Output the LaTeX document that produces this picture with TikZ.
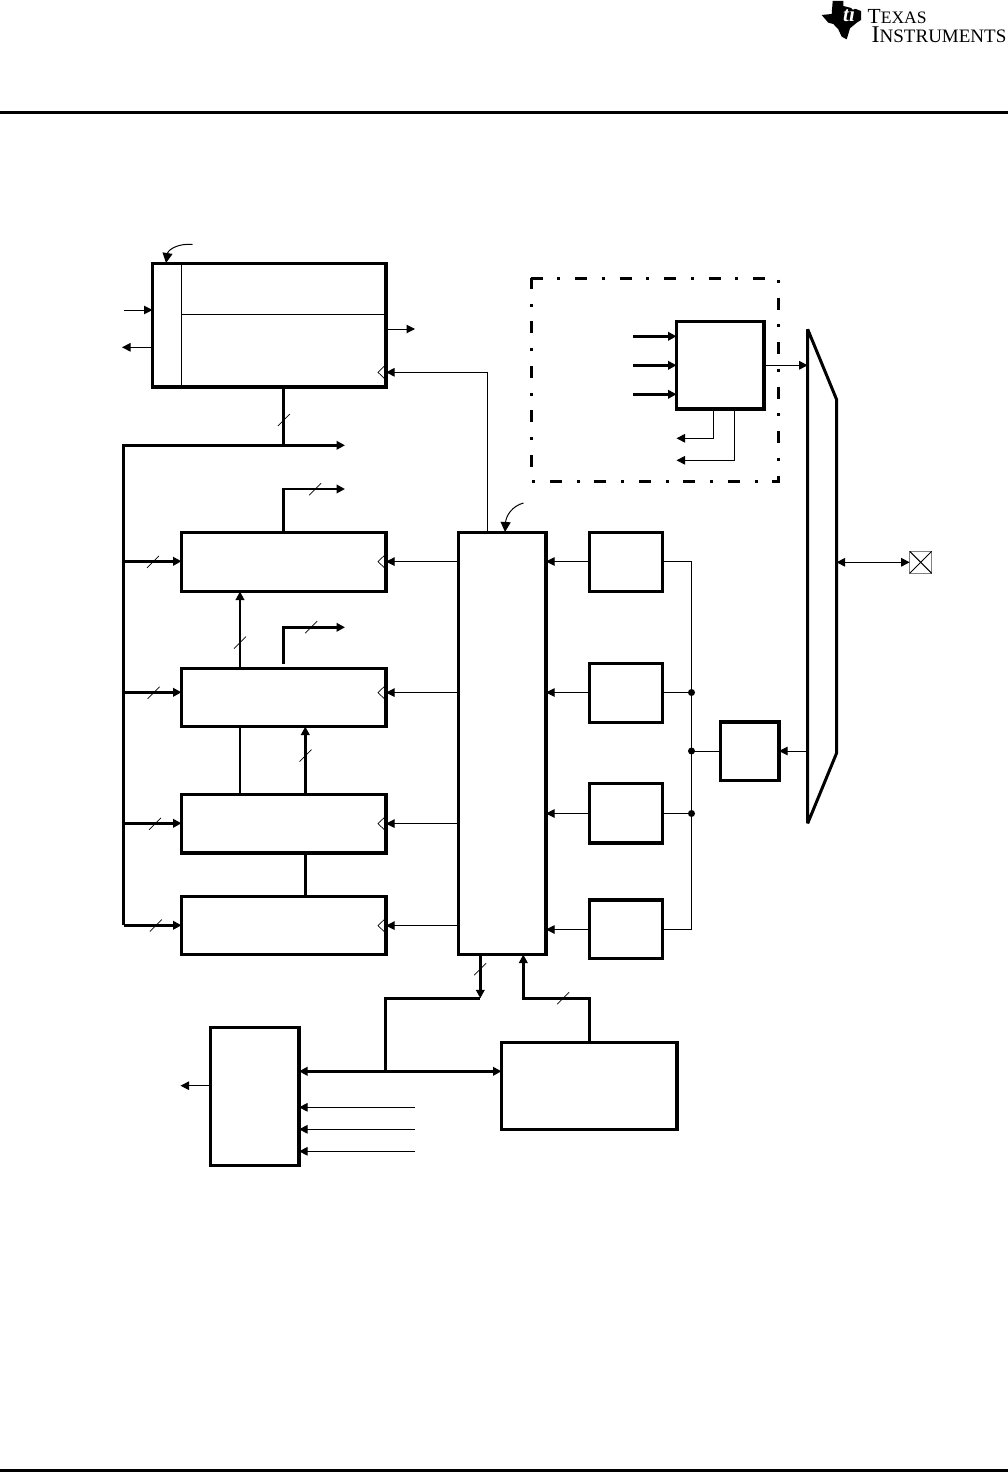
\documentclass[tikz,border=0pt]{standalone}
\usepackage{fontspec}
\setmainfont{Liberation Serif}
\usetikzlibrary{positioning}
\usetikzlibrary{arrows.meta}
\tikzset{->/.style = {-{Triangle[length=8.5pt,width=8.5pt]}}}
\tikzset{<->/.style = {{Triangle[length=8.5pt,width=8.5pt]}-{Triangle[length=8.5pt,width=8.5pt]}}}
\tikzset{curved/.style = {line width=1, -{Triangle[length=10pt,width=10pt]}}}
\tikzset{blockbox/.style = {draw, line width=3.2, inner sep=0, outer sep=0, anchor=north west}}
\tikzset{wire/.style = {line width=1}}
\tikzset{bus/.style = {line width=2.8}}
\tikzset{slash/.style = {line width=0.7}}
\tikzset{circ/.style = {fill, circle, inner sep=0, minimum size=7}}
\tikzset{clock/.style = {line width=0.7}}
\newcommand{\blockat}[5]{\node [blockbox, minimum width=#4-#2, minimum height=#5-#3] (#1) at (#2,#3) {};}
\newcommand{\clockmark}[1]{\draw [clock] (384.5,#1-6.3) -- (378,#1) -- (384.5,#1+6.3);}

\begin{document}
\begin{tikzpicture}[x=1pt,y=-1pt]
    \useasboundingbox (0,0) rectangle (1008,1472);
    % Page rules
    \coordinate (ruleA) at (0,112);
    \coordinate (ruleB) at (1008,112);
    \coordinate (ruleC) at (0,1470.5);
    \coordinate (ruleD) at (1008,1470.5);
    \draw [line width=3] (ruleA) -- (ruleB);
    \draw [line width=3] (ruleC) -- (ruleD);

    % Logo
    \fill (821.7,15) -- (831.7,14) -- (832.7,1) -- (843.3,1) -- (843.3,6) -- (856.7,9.3) -- (861,11) -- (861,20)
       -- (856.7,22.7) -- (850,28.3) -- (846.7,39.3) -- (841.7,36.7) -- (838.3,29.3) -- (833.3,24) -- (828.3,22.7) -- cycle;
    \node [white, font=\bfseries\itshape\fontsize{21}{21}\selectfont] (logoti) at (849,14.5) {ti};
    \node [anchor=north west, inner sep=0, align=left] (logotext) at (867.5,9)
       {\fontsize{21.5}{22}\selectfont T\fontsize{17.5}{22}\selectfont EXAS\\[2.5pt]
        \hspace*{4pt}\fontsize{24}{22}\selectfont I\fontsize{19}{22}\selectfont NSTRUMENTS};

    % Blocks
    \blockat{memory}{152.5}{263.5}{386}{387}
    \blockat{regA}{181.5}{532.5}{386}{591.5}
    \blockat{regB}{181.5}{668.5}{386}{726.5}
    \blockat{regC}{181.5}{794.5}{386}{853}
    \blockat{regD}{181.5}{896.5}{386}{954.5}
    \blockat{ctrl}{458.5}{532.5}{546}{954.5}
    \blockat{srcA}{589.5}{532.5}{662.5}{591.5}
    \blockat{srcB}{589.5}{663.5}{662.5}{722.5}
    \blockat{srcC}{589.5}{783.5}{662.5}{843}
    \blockat{srcD}{589.5}{900}{662.5}{958.5}
    \blockat{timer}{676.5}{321.5}{764}{409}
    \blockat{sync}{720.5}{722}{779}{780.5}
    \blockat{logic}{210.5}{1027.5}{299}{1165.5}
    \blockat{decode}{501.5}{1042.5}{677}{1129.5}

    % Memory block dividers
    \coordinate (divA) at (181.3,263.5);
    \coordinate (divB) at (181.3,387);
    \coordinate (divC) at (181.3,314.3);
    \coordinate (divD) at (386,314.3);
    \draw [wire] (divA) -- (divB);
    \draw [wire] (divC) -- (divD);

    % Clock marks
    \clockmark{372.3}
    \clockmark{561.6}
    \clockmark{692.6}
    \clockmark{823.6}
    \clockmark{925.6}

    % Memory block wires
    \coordinate (memIn) at (124,310);
    \coordinate (memOut) at (122,347.3);
    \coordinate (memOutR) at (415,329);
    \draw [wire, ->] (memIn) -- (memIn -| memory.west);
    \draw [wire, ->] (memOut -| memory.west) -- (memOut);
    \draw [wire, ->] (memOutR -| memory.east) -- (memOutR);
    \coordinate (clkTop) at (487,372.3);
    \draw [wire, ->] (clkTop |- ctrl.north) -- (clkTop) -- (clkTop -| memory.east);

    % Curved pointers
    \coordinate (noteA) at (192.5,244.5);
    \coordinate (noteB) at (166,263);
    \draw [curved] (noteA) .. controls (178,243) and (168,250) .. (noteB);
    \coordinate (noteC) at (523.5,503);
    \coordinate (noteD) at (505,532);
    \draw [curved] (noteC) .. controls (512,506) and (506,516) .. (noteD);

    % Data bus
    \coordinate (busEnd) at (345,445.3);
    \coordinate (busCorner) at (123.5,445.3);
    \coordinate (busTap) at (283.5,445.3);
    \coordinate (busLow) at (123.5,925.3);
    \draw [bus] (memory.south -| busTap) -- (busTap);
    \draw [bus, ->] (busLow) -- (busCorner) -- (busEnd);
    \draw [bus, ->] (busLow) -- (busLow -| regD.west);
    \coordinate (busLowA) at (123.5,561.3);
    \coordinate (busLowB) at (123.5,692.3);
    \coordinate (busLowC) at (123.5,823.3);
    \draw [bus, ->] (busLowA) -- (busLowA -| regA.west);
    \draw [bus, ->] (busLowB) -- (busLowB -| regB.west);
    \draw [bus, ->] (busLowC) -- (busLowC -| regC.west);

    % Register outputs
    \coordinate (outA) at (345,489);
    \coordinate (outB) at (345,627.3);
    \coordinate (outBstub) at (283.5,664);
    \draw [bus, ->] (regA.north -| busTap) -- (busTap |- outA) -- (outA);
    \draw [bus, ->] (outBstub) -- (outBstub |- outB) -- (outB);

    % Links between registers
    \coordinate (linkL) at (240,700);
    \coordinate (linkR) at (305.3,800);
    \draw [line width=2, ->] (linkL |- regB.north) -- (linkL |- regA.south);
    \draw [line width=2] (linkL |- regC.north) -- (linkL |- regB.south);
    \draw [bus, ->] (linkR |- regC.north) -- (linkR |- regB.south);
    \draw [bus] (linkR |- regD.north) -- (linkR |- regC.south);

    % Clock lines from control
    \coordinate (clkA) at (458.5,561.6);
    \coordinate (clkB) at (458.5,692.6);
    \coordinate (clkC) at (458.5,823.6);
    \coordinate (clkD) at (458.5,925.6);
    \draw [wire, ->] (clkA) -- (clkA -| regA.east);
    \draw [wire, ->] (clkB) -- (clkB -| regB.east);
    \draw [wire, ->] (clkC) -- (clkC -| regC.east);
    \draw [wire, ->] (clkD) -- (clkD -| regD.east);

    % Sources to control
    \coordinate (tieX) at (691.5,751);
    \coordinate (tieA) at (691.5,561.5);
    \coordinate (tieB) at (691.5,692.5);
    \coordinate (tieC) at (691.5,813.5);
    \coordinate (tieD) at (691.5,929.5);
    \draw [wire, ->] (tieA -| srcA.west) -- (tieA -| ctrl.east);
    \draw [wire, ->] (tieB -| srcB.west) -- (tieB -| ctrl.east);
    \draw [wire, ->] (tieC -| srcC.west) -- (tieC -| ctrl.east);
    \draw [wire, ->] (tieD -| srcD.west) -- (tieD -| ctrl.east);
    \draw [wire] (tieA -| srcA.east) -- (tieA) -- (tieD) -- (tieD -| srcD.east);
    \draw [wire] (tieB -| srcB.east) -- (tieB);
    \draw [wire] (tieC -| srcC.east) -- (tieC);
    \draw [wire] (tieX) -- (tieX -| sync.west);
    \node [circ] (dotB) at (tieB) {};
    \node [circ] (dotX) at (tieX) {};
    \node [circ] (dotC) at (tieC) {};

    % Output mux and pad
    \draw [line width=3, miter limit=2] (807.7,329.3) coordinate (muxA) -- (836.5,399.3) coordinate (muxB)
       -- (836.5,753.3) coordinate (muxC) -- (807.7,823.3) coordinate (muxD) -- cycle;
    \draw [wire, ->] (muxA |- tieX) -- (tieX -| sync.east);
    \node [draw=gray, line width=1, inner sep=0, outer sep=0, minimum size=22] (pad) at (920.7,562.3) {};
    \draw [wire] (pad.north west) -- (pad.south east);
    \draw [wire] (pad.north east) -- (pad.south west);
    \draw [wire, <->] (muxB |- pad.west) -- (pad.west);

    % Dash-dot frame
    \draw [line width=3, dash pattern=on 12 off 14.5 on 3 off 15]
       (530.5,278.3) -- (778.3,278.3) -- (778.3,481.3) -- (531.7,481.3) -- (531.7,278.3);

    % Timer wires
    \coordinate (timerA) at (633.3,336.3);
    \coordinate (timerB) at (633.3,365.3);
    \coordinate (timerC) at (633.3,394.3);
    \draw [bus, ->] (timerA) -- (timerA -| timer.west);
    \draw [bus, ->] (timerB) -- (timerB -| timer.west);
    \draw [bus, ->] (timerC) -- (timerC -| timer.west);
    \draw [wire, ->] (timerB -| timer.east) -- (timerB -| muxA);
    \coordinate (flagA) at (713.3,438.3);
    \coordinate (flagB) at (734.3,460.3);
    \draw [wire, ->] (flagA |- timer.south) -- (flagA) -- (flagA -| timer.west);
    \draw [wire, ->] (flagB |- timer.south) -- (flagB) -- (flagB -| timer.west);

    % Bottom blocks
    \coordinate (loBus) at (385.7,1071.3);
    \coordinate (loTop) at (385.7,998.3);
    \coordinate (loDown) at (480.3,998.3);
    \coordinate (loUp) at (523.3,998.3);
    \coordinate (loRight) at (589.3,998.3);
    \draw [bus, <->] (loBus -| logic.east) -- (loBus -| decode.west);
    \draw [bus] (loBus) -- (loTop) -- (loDown);
    \draw [bus, ->] (loDown |- ctrl.south) -- (loDown);
    \draw [bus, ->] (loRight |- decode.north) -- (loRight) -- (loUp) -- (loUp |- ctrl.south);
    \coordinate (logicOut) at (180.5,1085.7);
    \draw [wire, ->] (logicOut -| logic.west) -- (logicOut);
    \coordinate (logicA) at (415,1107.3);
    \coordinate (logicB) at (415,1129.3);
    \coordinate (logicC) at (415,1151.3);
    \draw [wire, ->] (logicA) -- (logicA -| logic.east);
    \draw [wire, ->] (logicB) -- (logicB -| logic.east);
    \draw [wire, ->] (logicC) -- (logicC -| logic.east);

    % Bus width slashes
    \foreach \sx/\sy in {283.8/420, 315.2/489.2, 153/561.8, 153.6/692.8, 155/823.9, 155.8/925.5,
                         240/642.5, 311.2/627.2, 305.5/755.5, 480.2/969.2, 563.2/998.2}
       \draw [slash] (\sx-6,\sy+6) -- (\sx+6,\sy-6);
  \end{tikzpicture}
\end{document}
